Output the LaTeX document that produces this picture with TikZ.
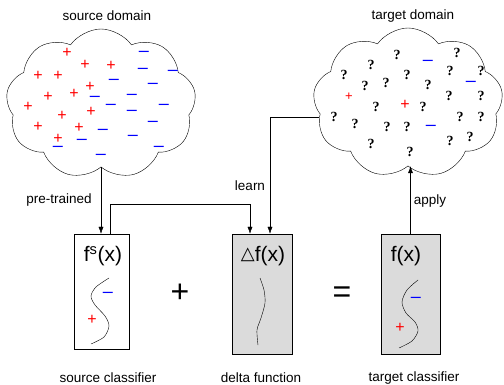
\documentclass[tikz,border=0pt]{standalone}
\usepackage{fontspec}
\setmainfont{Liberation Sans}
\newfontfamily\qfont{Liberation Serif}
\newfontfamily\symfont{DejaVu Sans}
\usetikzlibrary{arrows.meta,shapes.symbols}
\tikzset{inner sep=0pt}

\begin{document}
\begin{tikzpicture}[x=1pt,y=-1pt,
            lbl/.style={font=\fontsize{13.5}{15}\selectfont},
            formula/.style={font=\fontsize{21}{24}\selectfont},
            classbox/.style={draw,rectangle,minimum width=#1},
            puffy/.style={cloud,draw,cloud puffs=9,cloud puff arc=110,cloud ignores aspect,minimum width=190pt,minimum height=150pt},
            plusmark/.style={red,font=\fontsize{16}{16}\selectfont},
            minusmark/.style={blue,font=\fontsize{18}{18}\selectfont},
            qmark/.style={font=\qfont\bfseries\fontsize{14}{14}\selectfont},
            arr/.style={draw,-{Latex[length=7pt,width=5pt]}}
            ]
            \useasboundingbox (0,0) rectangle (504,385);
            % clouds
            \node[puffy] (srccloud) at (101,104) {};
            \node[puffy] (tgtcloud) at (408,103) {};
            \node[lbl] (srctitle) at (107,16) {source domain};
            \node[lbl] (tgttitle) at (413,16) {target domain};
            % source samples
            \foreach \p [count=\i] in {(67,53),(85,65),(111,66),(38,76),(58,76),(90,87),(74,94),
                (48,97),(28,107),(62,116),(91,112),(38,127),(79,128),(58,139)}
                \node[plusmark] (splus\i) at \p {+};
            \foreach \p [count=\i] in {(144,54),(143,71),(173,73),(114,82),(153,86),(95,99),(132,97),
                (111,107),(164,107),(132,113),(153,124),(103,132),(82,142),(133,138),(58,149),(159,149),(101,157)}
                \node[minusmark] (sminus\i) at \p {\textendash};
            % target samples
            \foreach \p [count=\i] in {(397,55),(457,53),(371,65),(344,75),(407,75),(450,71),(481,71),
                (365,86),(386,83),(428,85),(449,96),(481,96),(376,107),(423,107),(334,117),(460,117),
                (481,117),(355,124),(387,127),(407,127),(450,141),(470,137),(371,144),(410,152)}
                \node[qmark] (tq\i) at \p {?};
            \node[plusmark,font=\fontsize{13}{13}\selectfont] (tplus1) at (349,97) {+};
            \node[plusmark] (tplus2) at (405,105) {+};
            \node[minusmark] (tminus1) at (428,63) {\textendash};
            \node[minusmark] (tminus2) at (471,84) {\textendash};
            \node[minusmark] (tminus3) at (431,128) {\textendash};
            % classifiers
            \node[classbox=55pt,minimum height=115pt] (srcbox) at (101.5,291.5) {};
            \node[classbox=60pt,minimum height=120pt,fill=black!14] (dltbox) at (262,294) {};
            \node[classbox=59pt,minimum height=120pt,fill=black!14] (tgtbox) at (410.5,294) {};
            \node[formula] (srcf) at (103,256) {f\textsuperscript{s}(x)};
            \node[formula] (dltf) at (263,256) {{\symfont\fontsize{18}{18}\selectfont\raisebox{1.5pt}{△}}f(x)};
            \node[formula] (tgtf) at (406,256) {f(x)};
            \draw plot[smooth] coordinates {(109,278) (96,287) (91,296) (95,305) (105,316) (109,326) (104,337) (91,344)};
            \draw plot[smooth] coordinates {(260,278) (264,290) (265,303) (261,318) (257,330) (258,345)};
            \draw plot[smooth] coordinates {(418,280) (407,290) (402,302) (406,313) (415,322) (418,331) (412,341) (399,348)};
            \node[minusmark] (srcminus) at (108,295) {\textendash};
            \node[plusmark] (srcplus) at (92,320) {+};
            \node[minusmark] (tgtminus) at (416,300) {\textendash};
            \node[plusmark] (tgtplus) at (400,328) {+};
            \node[font=\fontsize{32}{32}\selectfont] (plussign) at (180,293) {+};
            \node[font=\fontsize{32}{32}\selectfont] (eqsign) at (342,295) {=};
            \node[lbl] (srcname) at (108,378) {source classifier};
            \node[lbl] (dltname) at (261,378) {delta function};
            \node[lbl] (tgtname) at (414,378) {target classifier};
            % connectors
            \draw[arr] (srccloud.south) -- (srccloud.south |- srcbox.north);
            \draw[arr] ([xshift=9pt]srcbox.north) -- ++(0,-30) -| ([xshift=-12pt]dltbox.north);
            \draw[arr] (tgtcloud.189) -| ([xshift=8pt]dltbox.north);
            \draw[arr] (tgtbox.north) -- (tgtbox.north |- tgtcloud.south);
            \node[lbl] (pretrained) at (59,200) {pre-trained};
            \node[lbl] (learn) at (250,186) {learn};
            \node[lbl] (apply) at (430,201) {apply};
\end{tikzpicture}
\end{document}
